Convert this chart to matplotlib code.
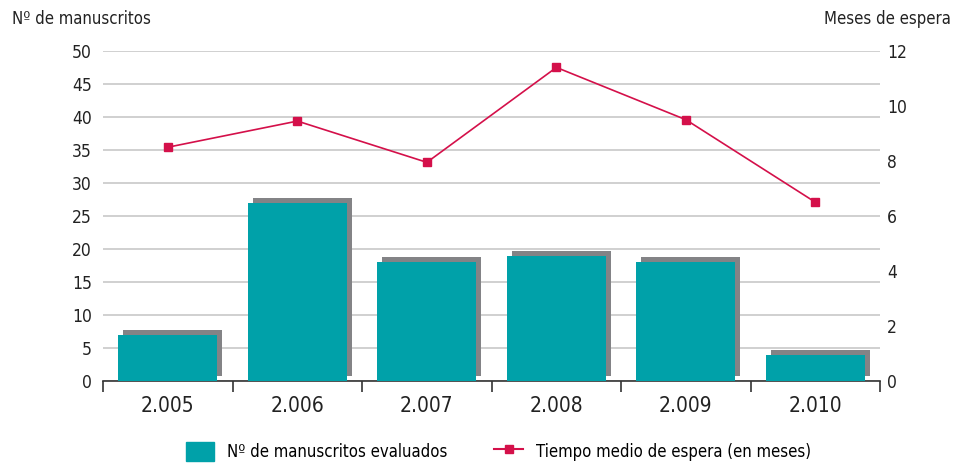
import matplotlib.pyplot as plt
from matplotlib.patches import Patch
from matplotlib.lines import Line2D

plt.rcParams['font.family'] = ['DejaVu Sans']
plt.rcParams['font.stretch'] = 'condensed'

years = ['2.005', '2.006', '2.007', '2.008', '2.009', '2.010']
manuscritos = [7, 27, 18, 19, 18, 4]
meses = [8.5, 9.45, 7.95, 11.4, 9.5, 6.5]

teal = '#00a1a9'
shadow = '#838386'
red = '#d4104a'

fig = plt.figure(figsize=(9.64, 4.63), dpi=100)
ax = fig.add_axes([0.107, 0.177, 0.806, 0.713])
ax2 = ax.twinx()

x = range(len(years))
w = 0.765
dx = 0.039   # shadow offset, ~5px
dy = 0.76
ax.bar([i + dx for i in x], manuscritos, width=w, bottom=dy, color=shadow, zorder=2)
ax.bar(x, manuscritos, width=w, color=teal, zorder=3)

ax2.plot(x, meses, color=red, lw=1.2, marker='s', ms=6, zorder=5)

ax.set_xlim(-0.5, len(years) - 0.5)
ax.set_ylim(0, 50)
ax2.set_ylim(0, 12)
ax.set_yticks(range(0, 51, 5))
ax2.set_yticks(range(0, 13, 2))
ax.yaxis.grid(True, color='#c8c8c8', lw=1.2, zorder=0)
ax.set_axisbelow(True)

ax.set_xticks([i - 0.5 for i in range(len(years) + 1)])
ax.set_xticklabels([])
ax.set_xticks(list(x), minor=True)
ax.set_xticklabels(years, minor=True, fontsize=15, color='#222222')
ax.tick_params(axis='x', which='major', length=8, width=1.2, color='#333333', direction='out')
ax.tick_params(axis='x', which='minor', length=0, pad=11)
ax.tick_params(axis='y', length=0, labelsize=12.5, pad=8, colors='#222222')
ax2.tick_params(axis='y', length=0, labelsize=12.5, pad=5, colors='#222222')

for a in (ax, ax2):
    for s in ['top', 'left', 'right', 'bottom']:
        a.spines[s].set_visible(False)
ax.spines['bottom'].set_visible(True)
ax.spines['bottom'].set_color('#333333')
ax.spines['bottom'].set_linewidth(1.2)

fig.text(0.012, 0.96, 'Nº de manuscritos', fontsize=12, va='center', ha='left', color='#222222')
fig.text(0.986, 0.96, 'Meses de espera', fontsize=12, va='center', ha='right', color='#222222')

handles = [Patch(color=teal), Line2D([], [], color=red, lw=1.5, marker='s', ms=6)]
labels = ['Nº de manuscritos evaluados', 'Tiempo medio de espera (en meses)']
fig.legend(handles, labels, loc='lower center', bbox_to_anchor=(0.517, -0.028), ncol=2,
           frameon=False, fontsize=12, handlelength=1.7, handleheight=1.4,
           columnspacing=2.8, handletextpad=0.8)

fig.savefig('out.png', dpi=100)
